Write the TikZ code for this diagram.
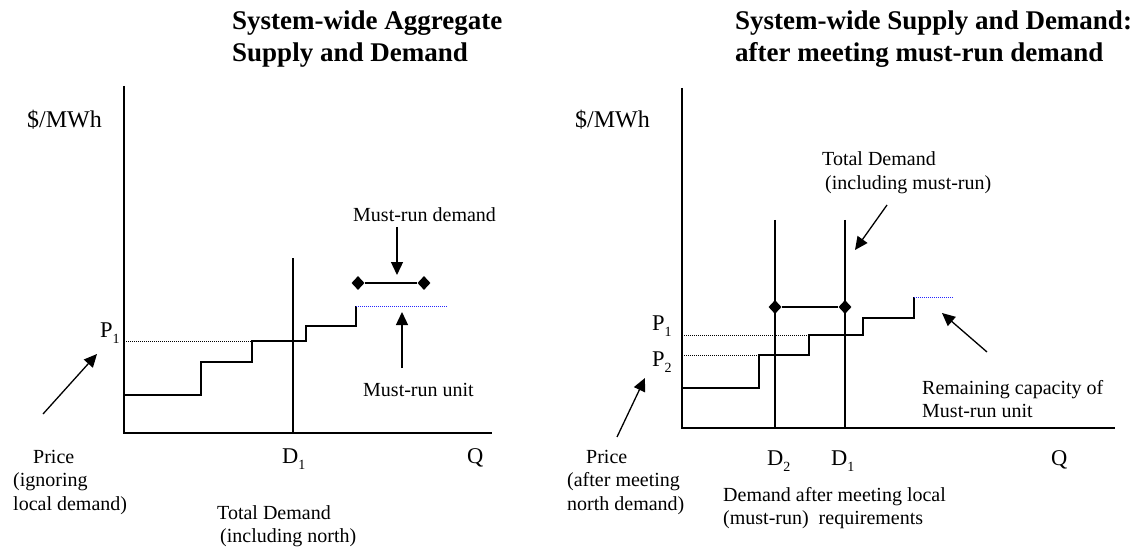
\documentclass[tikz,border=0pt]{standalone}
\usepackage{fontspec}
\setmainfont{Liberation Serif}
\usetikzlibrary{arrows.meta,shapes.geometric}
\newcommand{\subs}[1]{\raisebox{-0.3em}{\fontsize{14}{14}\selectfont #1}}
\begin{document}
\begin{tikzpicture}[x=1pt,y=-1pt,
  lbl/.style={anchor=base west, inner sep=0pt, font=\fontsize{20}{23.5}\selectfont, align=left},
  sym/.style={anchor=base west, inner sep=0pt, font=\fontsize{22.5}{26}\selectfont},
  ylbl/.style={anchor=base west, inner sep=0pt, font=\fontsize{24}{28}\selectfont},
  ttl/.style={anchor=base west, inner sep=0pt, font=\fontsize{27}{31.5}\selectfont\bfseries, align=left},
  ax/.style={line width=1.4pt},
  curve/.style={line width=1.3pt},
  dots/.style={line width=0.8pt, dash pattern=on 1pt off 1pt},
  bluedots/.style={line width=0.8pt, dash pattern=on 1pt off 1pt, color=blue!85},
  arr/.style={line width=1.3pt, -{Triangle[width=12pt,length=13pt]}},
  dmd/.style={diamond, fill=black, inner sep=0pt, minimum width=13pt, minimum height=14pt}
]
\path[use as bounding box] (0,0) rectangle (1143,548);

% ---------------- Left chart ----------------
% multi-line nodes: anchor point is the baseline of the last line
\node[ttl] (t1) at (232,61.5) {System-wide Aggregate\\Supply and Demand};
\node[ylbl] (ylab1) at (27,128) {\$/MWh};

\coordinate (L0) at (124,433);
\coordinate (Ltop) at (124,86);
\coordinate (Lend) at (492,433);
\draw[ax] (Ltop) -- (L0) -- (Lend);

% supply steps
\draw[curve] (124,395) -| (201,362) -| (252,341) -| (306,326) -| (356,306);
\draw[bluedots] (356,306) -- (448,306);
\draw[dots] (124,341) -- (252,341);

% demand D1
\coordinate (LD1top) at (293,258);
\coordinate (LD1bot) at (293,433);
\draw[ax] (LD1top) -- (LD1bot);

% must-run demand bar
\node[dmd] (mA) at (358,283) {};
\node[dmd] (mB) at (424,283) {};
\draw[curve] (mA) -- (mB);

\node[lbl] (mrd) at (353,222) {Must-run demand};
\coordinate (mrdS) at (397,227);
\coordinate (mrdE) at (397,275);
\draw[arr] (mrdS) -- (mrdE);

\node[lbl] (mru) at (363,396) {Must-run unit};
\coordinate (mruS) at (402,368);
\coordinate (mruE) at (402,312);
\draw[arr] (mruS) -- (mruE);

\node[sym] (P1L) at (100,337) {P\subs{1}};
\coordinate (prS) at (43,414);
\coordinate (prE) at (97,354);
\draw[arr] (prS) -- (prE);

\node[lbl] (price1) at (13,510) {\hspace{20pt}Price\\(ignoring\\local demand)};
\node[sym] (D1L) at (282,463) {D\subs{1}};
\node[sym] (Q1) at (467,463) {Q};
\node[lbl] (tot1) at (217,542.5) {Total Demand\\\hspace{3pt}(including north)};

% ---------------- Right chart ----------------
\node[ttl] (t2) at (735,61.5) {System-wide Supply and Demand:\\after meeting must-run demand};
\node[ylbl] (ylab2) at (575,128) {\$/MWh};

\coordinate (R0) at (682,428);
\coordinate (Rtop) at (682,88);
\coordinate (Rend) at (1115,428);
\draw[ax] (Rtop) -- (R0) -- (Rend);

\draw[curve] (682,388) -| (759,355) -| (809,335) -| (863,318) -| (914,297);
\draw[bluedots] (914,297) -- (953,297);
\draw[dots] (682,335) -- (809,335);
\draw[dots] (682,355) -- (759,355);

\coordinate (RD2top) at (775,220);
\coordinate (RD2bot) at (775,428);
\coordinate (RD1top) at (845,220);
\coordinate (RD1bot) at (845,428);
\draw[ax] (RD2top) -- (RD2bot);
\draw[ax] (RD1top) -- (RD1bot);

\node[dmd] (nA) at (775,307) {};
\node[dmd] (nB) at (845,307) {};
\draw[curve] (nA) -- (nB);

\node[sym] (P1R) at (652,330) {P\subs{1}};
\node[sym] (P2R) at (652,366) {P\subs{2}};
\coordinate (pr2S) at (617,437);
\coordinate (pr2E) at (645,378);
\draw[arr] (pr2S) -- (pr2E);

\node[lbl] (totR) at (822,189.5) {Total Demand\\\hspace{3pt}(including must-run)};
\coordinate (totS) at (887,205);
\coordinate (totE) at (855,250);
\draw[arr] (totS) -- (totE);

\node[lbl] (rem) at (922,417.5) {Remaining capacity of\\Must-run unit};
\coordinate (remS) at (987,352);
\coordinate (remE) at (942,313);
\draw[arr] (remS) -- (remE);

\node[lbl] (price2) at (567,510) {\hspace{19pt}Price\\(after meeting\\north demand)};
\node[sym] (D2R) at (767,465) {D\subs{2}};
\node[sym] (D1R) at (831,465) {D\subs{1}};
\node[sym] (Q2) at (1051,465) {Q};
\node[lbl] (dam) at (723,524.5) {Demand after meeting local\\(must-run)\ \ requirements};
\end{tikzpicture}
\end{document}
